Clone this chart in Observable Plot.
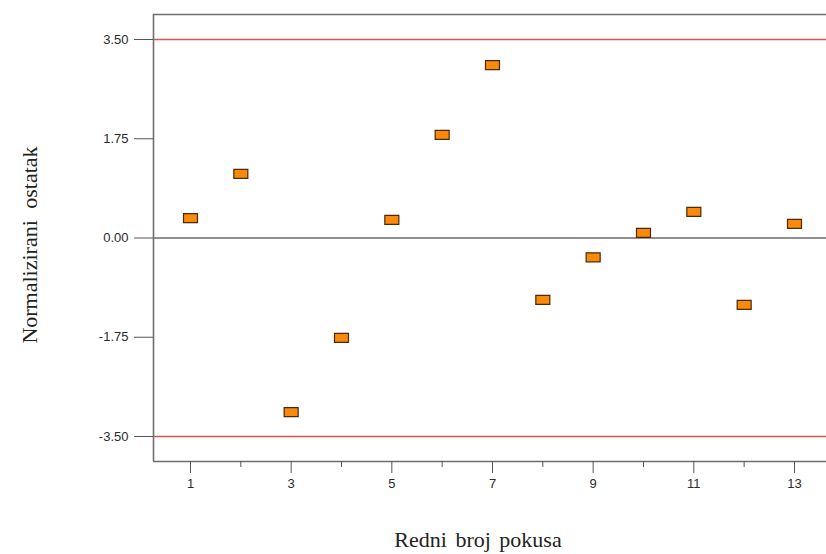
<!DOCTYPE html>
<html>
<head>
<meta charset="utf-8">
<script src="https://cdn.jsdelivr.net/npm/d3@7"></script>
<script src="https://cdn.jsdelivr.net/npm/@observablehq/plot@0.6"></script>
<style>
  html, body { margin: 0; padding: 0; background: #fff; }
  #chart { position: relative; width: 826px; height: 554px; }
</style>
</head>
<body>
<div id="chart"></div>
<script>
const runs = [1, 2, 3, 4, 5, 6, 7, 8, 9, 10, 11, 12, 13];
const residuals = [0.35, 1.13, -3.07, -1.76, 0.32, 1.82, 3.05, -1.09, -0.34, 0.09, 0.46, -1.18, 0.25];
const yTicks = [3.5, 1.75, 0, -1.75, -3.5];
const xMajorTicks = [1, 3, 5, 7, 9, 11, 13];
const xMinorTicks = [2, 4, 6, 8, 10, 12];
const limits = [3.5, -3.5];
const xLabel = "Redni broj pokusa";
const yLabel = "Normalizirani ostatak";

const data = runs.map((r, i) => ({run: r, res: residuals[i]}));

const boxSymbol = {
  draw(ctx, size) {
    const w = 7, h = 4.5;
    ctx.moveTo(-w, -h);
    ctx.lineTo(w, -h);
    ctx.lineTo(w, h);
    ctx.lineTo(-w, h);
    ctx.closePath();
  }
};

const xDom = [0.265, 13.636];
const yDom = [-3.941, 3.941];

const plot = Plot.plot({
  width: 826,
  height: 554,
  marginLeft: 153,
  marginRight: 0,
  marginTop: 14,
  marginBottom: 93,
  style: {fontFamily: "'Liberation Sans', Arial, sans-serif", fontSize: "13px", color: "#333", background: "#fff"},
  x: {domain: xDom},
  y: {domain: yDom},
  marks: [
    Plot.ruleY(limits, {stroke: "#d9534f", strokeWidth: 1.3}),
    Plot.ruleY([0], {stroke: "#222", strokeWidth: 1.2}),
    Plot.ruleX([xDom[0]], {stroke: "#6e6e6e", strokeWidth: 1.6}),
    Plot.ruleY([yDom[1]], {stroke: "#6e6e6e", strokeWidth: 1.6}),
    Plot.ruleY([yDom[0]], {stroke: "#6e6e6e", strokeWidth: 1.6}),
    Plot.axisY({ticks: yTicks, tickSize: 19, tickPadding: 6, fontSize: 13, tickFormat: d => d.toFixed(2), label: null, stroke: "#555", fill: "#2a2a2a"}),
    Plot.axisX({ticks: xMajorTicks, tickSize: 12, tickPadding: 5, fontSize: 13, tickFormat: d => String(d), label: null, stroke: "#555", fill: "#2a2a2a"}),
    Plot.axisX({ticks: xMinorTicks, tickSize: 6, tickFormat: () => "", label: null, stroke: "#555"}),
    Plot.dot(data, {x: "run", y: "res", symbol: boxSymbol, r: 5, fill: "#fb8a0c", stroke: "#4a2a0a", strokeWidth: 1.2})
  ]
});

const chart = document.getElementById("chart");
chart.appendChild(plot);

const svg = d3.select(plot);
svg.selectAll("g[aria-label$='tick label']").style("font-size", "13px").attr("font-size", 13);
svg.selectAll("g[aria-label$='tick label'] text").style("font-size", "13px");
svg.append("text")
  .attr("x", 478).attr("y", 547)
  .attr("text-anchor", "middle")
  .style("font-family", "'Liberation Serif', 'Times New Roman', serif")
  .style("font-size", "22px")
  .style("word-spacing", "3px")
  .attr("fill", "#222")
  .text(xLabel);
svg.append("text")
  .attr("transform", "translate(37,245) rotate(-90)")
  .attr("text-anchor", "middle")
  .style("font-family", "'Liberation Serif', 'Times New Roman', serif")
  .style("font-size", "22px")
  .style("word-spacing", "6px")
  .attr("fill", "#222")
  .text(yLabel);
</script>
</body>
</html>
